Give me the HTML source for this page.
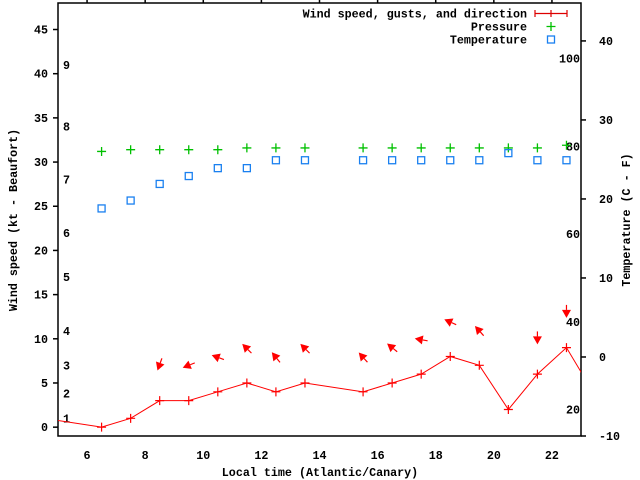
<!DOCTYPE html>
<html><head><meta charset="utf-8"><style>
html,body{margin:0;padding:0;background:#fff;}
svg{display:block;}
text{font-family:"Liberation Mono",monospace;font-weight:bold;font-size:11.7px;fill:#000;}
</style></head><body>
<svg id="chart" width="640" height="480" xmlns="http://www.w3.org/2000/svg">
<g id="grid"></g>
<g id="marks"></g>
</svg>
<script>
const xTicks = [6, 8, 10, 12, 14, 16, 18, 20, 22];
const yTicks = [0, 5, 10, 15, 20, 25, 30, 35, 40, 45];
const y2Ticks = [-10, 0, 10, 20, 30, 40];
const fLabels = [20, 40, 60, 80, 100];
const beaufortLabels = ["1","2","3","4","5","6","7","8","9"];
const beaufortKt = [1, 3.8, 7.0, 10.9, 17.0, 22.0, 28.0, 34.0, 41.0];
const windTimes = [4.5, 6.5, 7.5, 8.5, 9.5, 10.5, 11.5, 12.5, 13.5, 15.5, 16.5, 17.5, 18.5, 19.5, 20.5, 21.5, 22.5, 23.5];
const windSpeed = [1, 0, 1, 3, 3, 4, 5, 4, 5, 4, 5, 6, 8, 7, 2, 6, 9, 3.5];
const pressTimes = [6.5, 7.5, 8.5, 9.5, 10.5, 11.5, 12.5, 13.5, 15.5, 16.5, 17.5, 18.5, 19.5, 20.5, 21.5, 22.5];
const pressure = [31.2, 31.4, 31.4, 31.4, 31.4, 31.6, 31.6, 31.6, 31.6, 31.6, 31.6, 31.6, 31.6, 31.6, 31.6, 31.9];
const tempTimes = [6.5, 7.5, 8.5, 9.5, 10.5, 11.5, 12.5, 13.5, 15.5, 16.5, 17.5, 18.5, 19.5, 20.5, 21.5, 22.5];
const temperature = [18.8, 19.8, 21.9, 22.9, 23.9, 23.9, 24.9, 24.9, 24.9, 24.9, 24.9, 24.9, 24.9, 25.8, 24.9, 24.9];
const arrowTimes = [8.5, 9.5, 10.5, 11.5, 12.5, 13.5, 15.5, 16.5, 17.5, 18.5, 19.5, 21.5, 22.5];
const arrowLevel = [7.1, 7.0, 7.9, 8.9, 7.9, 8.9, 7.9, 9.0, 9.9, 11.9, 10.9, 10.1, 13.1];
const arrowAngle = [110, 158, 200, 225, 231, 225, 228, 219, 190, 204, 228, 90, 90];

const L=58, R=581, T=3, B=436;
const X0=5, X1=23, Y0=-1, Y1=48, C0=-10, C1=44.8;
const xs = v => L + (v - X0) / (X1 - X0) * (R - L);
const ys = v => B - (v - Y0) / (Y1 - Y0) * (B - T);
const cs = v => B - (v - C0) / (C1 - C0) * (B - T);
const fs = f => cs((f - 32) * 5 / 9);
const NS = "http://www.w3.org/2000/svg";
const svg = document.getElementById('chart');
const g = document.getElementById('marks');
function mk(tag, attrs, parent, txt){
  const e = document.createElementNS(NS, tag);
  for (const k in attrs) e.setAttribute(k, attrs[k]);
  if (txt !== undefined) e.textContent = txt;
  (parent || g).appendChild(e);
  return e;
}
let e = mk('rect', {x:L, y:T, width:R-L, height:B-T, fill:'none', stroke:'#000', 'stroke-width':1.5});


xTicks.forEach(t => {
  const x = xs(t);
  let tk = mk('line', {x1:x, x2:x, y1:0, y2:T, stroke:'#000', 'stroke-width':1.5});
  
  
  let lb = mk('text', {x:x, y:459, 'text-anchor':'middle'}, g, String(t));
  
  
});
yTicks.forEach(t => {
  const y = ys(t);
  let tk = mk('line', {x1:L-5, x2:L, y1:y, y2:y, stroke:'#000', 'stroke-width':1.5});
  
  
  let lb = mk('text', {x:48, y:y+4, 'text-anchor':'end'}, g, String(t));
  
  
});
y2Ticks.forEach(t => {
  const y = cs(t);
  let tk = mk('line', {x1:R, x2:R+5, y1:y, y2:y, stroke:'#000', 'stroke-width':1.5});
  
  
  let lb = mk('text', {x:599, y:y+4}, g, String(t));
  
  
});
fLabels.forEach(f => {
  let lb = mk('text', {x:580, y:fs(f)+4, 'text-anchor':'end'}, g, String(f));
  
  
});
beaufortLabels.forEach((b, i) => {
  let lb = mk('text', {x:63, y:ys(beaufortKt[i])+4}, g, b);
  
  
});
e = mk('text', {x:320, y:476, 'text-anchor':'middle'}, g, 'Local time (Atlantic/Canary)');


e = mk('text', {x:17, y:220, 'text-anchor':'middle', transform:'rotate(-90 17 220)'}, g, 'Wind speed (kt - Beaufort)');


e = mk('text', {x:630, y:220, 'text-anchor':'middle', transform:'rotate(-90 630 220)'}, g, 'Temperature (C - F)');


const defs = mk('defs', {}, svg);
const cp = mk('clipPath', {id:'clip'}, defs);
mk('rect', {x:L, y:T, width:R-L, height:B-T}, cp);
const clipG = mk('g', {'clip-path':'url(#clip)'});
e = mk('polyline', {points: windTimes.map((t,i)=>xs(t)+','+ys(windSpeed[i])).join(' '), fill:'none', stroke:'#f00', 'stroke-width':1}, clipG);


windTimes.forEach((t,i) => {
  const x = xs(t), y = ys(windSpeed[i]);
  let p = mk('path', {d:`M${x-4.5},${y}H${x+4.5}M${x},${y-4.5}V${y+4.5}`, stroke:'#f00', 'stroke-width':1.2}, clipG);
  
  
});
pressTimes.forEach((t,i) => {
  const x = xs(t), y = ys(pressure[i]);
  let p = mk('path', {d:`M${x-4.5},${y}H${x+4.5}M${x},${y-4.5}V${y+4.5}`, stroke:'#00c000', 'stroke-width':1.3}, clipG);
  
  
});
tempTimes.forEach((t,i) => {
  const x = xs(t), y = cs(temperature[i]);
  let p = mk('rect', {x:x-3.5, y:y-3.5, width:7, height:7, fill:'none', stroke:'#1a80f0', 'stroke-width':1.3}, clipG);
  
  
});
arrowTimes.forEach((t,i) => {
  const cx = xs(t), cy = ys(arrowLevel[i]);
  const a = arrowAngle[i] * Math.PI / 180, dx = Math.cos(a), dy = Math.sin(a);
  const hx = cx + dx*6.5, hy = cy + dy*6.5, tx = cx - dx*6.5, ty = cy - dy*6.5;
  const bx = hx - dx*8, by = hy - dy*8, px = -dy*4.5, py = dx*4.5;
  const grp = mk('g', {}, clipG);
  
  
  mk('line', {x1:tx, y1:ty, x2:bx, y2:by, stroke:'#f00', 'stroke-width':1.2}, grp);
  mk('polygon', {points:`${hx},${hy} ${bx+px},${by+py} ${bx-px},${by-py}`, fill:'#f00'}, grp);
});
const lg = mk('g', {});


const legendLabels = ['Wind speed, gusts, and direction', 'Pressure', 'Temperature'];
legendLabels.forEach((s, i) => {
  let t = mk('text', {x:527, y:17.5 + i*13, 'text-anchor':'end'}, lg, s);
  
  
});
mk('path', {d:'M535,13.5H567M535,10V17M567,10V17M551,10V17', stroke:'#d00', 'stroke-width':1.2, fill:'none'}, lg);
mk('path', {d:'M546.5,26.5H555.5M551,22V31', stroke:'#00c000', 'stroke-width':1.3}, lg);
mk('rect', {x:547.5, y:36, width:7, height:7, fill:'none', stroke:'#1a80f0', 'stroke-width':1.3}, lg);
</script>
</body></html>
